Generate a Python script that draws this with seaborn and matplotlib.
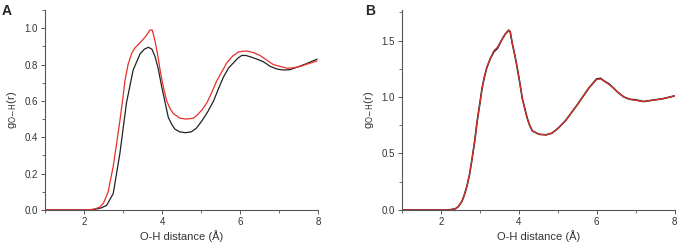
import seaborn as sns
import matplotlib.pyplot as plt
from matplotlib.ticker import MultipleLocator

# Panel A: two g(r) curves
a_black_r = [1.0, 2.1, 2.3, 2.45, 2.58, 2.75, 2.92, 3.09, 3.26, 3.44, 3.55, 3.65, 3.74,
             3.82, 3.9, 3.99, 4.08, 4.16, 4.25, 4.33, 4.45, 4.6, 4.75, 4.88, 5.02, 5.17,
             5.32, 5.45, 5.57, 5.7, 5.83, 5.94, 6.04, 6.15, 6.3, 6.43, 6.6, 6.77, 6.95,
             7.11, 7.28, 7.45, 7.7, 7.97]
a_black_g = [0.0, 0.0, 0.004, 0.012, 0.025, 0.09, 0.31, 0.59, 0.77, 0.86, 0.885, 0.895,
             0.885, 0.845, 0.78, 0.68, 0.59, 0.51, 0.47, 0.445, 0.43, 0.425, 0.43,
             0.45, 0.49, 0.54, 0.60, 0.67, 0.73, 0.78, 0.81, 0.835, 0.85, 0.85, 0.84,
             0.83, 0.815, 0.79, 0.775, 0.77, 0.772, 0.785, 0.805, 0.83]
a_red_r = [1.0, 2.05, 2.25, 2.4, 2.5, 2.62, 2.75, 2.84, 2.92, 3.0, 3.05, 3.13, 3.22,
           3.3, 3.39, 3.5, 3.6, 3.69, 3.75, 3.82, 3.9, 3.95, 4.03, 4.12, 4.2, 4.29,
           4.46, 4.62, 4.8, 4.89, 5.02, 5.15, 5.28, 5.4, 5.53, 5.66, 5.8, 5.96, 6.16,
           6.35, 6.51, 6.68, 6.85, 7.02, 7.2, 7.37, 7.54, 7.75, 7.97]
a_red_g = [0.0, 0.0, 0.004, 0.015, 0.037, 0.1, 0.24, 0.37, 0.49, 0.62, 0.71, 0.8,
           0.86, 0.89, 0.91, 0.935, 0.96, 0.99, 0.99, 0.93, 0.84, 0.77, 0.68, 0.60,
           0.56, 0.53, 0.505, 0.50, 0.505, 0.52, 0.55, 0.59, 0.65, 0.71, 0.76, 0.81,
           0.845, 0.87, 0.875, 0.865, 0.85, 0.825, 0.80, 0.79, 0.78, 0.782, 0.79,
           0.805, 0.82]

# Panel B: curves nearly overlap
b_r = [1.0, 2.2, 2.37, 2.45, 2.54, 2.6, 2.67, 2.74, 2.8, 2.87, 2.93, 3.0, 3.06, 3.12,
       3.18, 3.27, 3.36, 3.45, 3.57, 3.66, 3.74, 3.78, 3.83, 3.9, 3.96, 4.03, 4.09,
       4.16, 4.22, 4.28, 4.35, 4.52, 4.7, 4.85, 5.0, 5.2, 5.5, 5.8, 6.0, 6.1, 6.2,
       6.3, 6.4, 6.55, 6.7, 6.85, 7.0, 7.2, 7.5, 7.7, 8.0]
b_black_g = [0.0, 0.0, 0.01, 0.03, 0.075, 0.13, 0.21, 0.32, 0.45, 0.61, 0.78, 0.94,
             1.08, 1.18, 1.26, 1.34, 1.40, 1.43, 1.51, 1.56, 1.59, 1.58, 1.48, 1.37,
             1.26, 1.12, 0.99, 0.89, 0.81, 0.75, 0.70, 0.67, 0.665, 0.68, 0.72, 0.79,
             0.93, 1.08, 1.16, 1.165, 1.14, 1.12, 1.09, 1.04, 1.0, 0.98, 0.975, 0.96,
             0.975, 0.985, 1.01]
b_red_g = [0.0, 0.0, 0.01, 0.03, 0.075, 0.13, 0.21, 0.32, 0.45, 0.61, 0.78, 0.94,
           1.08, 1.18, 1.26, 1.34, 1.41, 1.44, 1.51, 1.56, 1.595, 1.58, 1.48, 1.37,
           1.26, 1.12, 0.99, 0.89, 0.81, 0.75, 0.70, 0.67, 0.665, 0.68, 0.72, 0.79,
           0.93, 1.08, 1.155, 1.16, 1.14, 1.115, 1.09, 1.04, 1.0, 0.98, 0.97, 0.96,
           0.975, 0.985, 1.01]

sns.set_style("ticks")
plt.rcParams["font.family"] = ["Liberation Sans", "DejaVu Sans"]

fig = plt.figure(figsize=(6.8, 2.45), dpi=100)
ax_a = fig.add_axes([0.066, 0.143, 0.402, 0.816])
ax_b = fig.add_axes([0.591, 0.143, 0.401, 0.816])

black = "#222222"
red = "#e8302a"

sns.lineplot(x=a_black_r, y=a_black_g, ax=ax_a, color=black, lw=0.9)
sns.lineplot(x=a_red_r, y=a_red_g, ax=ax_a, color=red, lw=0.9)
sns.lineplot(x=b_r, y=b_black_g, ax=ax_b, color=black, lw=1.2)
sns.lineplot(x=b_r, y=b_red_g, ax=ax_b, color=red, lw=0.8)

ax_a.set_xlim(1, 8)
ax_a.set_ylim(0, 1.1)
ax_a.yaxis.set_major_locator(MultipleLocator(0.2))
ax_a.yaxis.set_minor_locator(MultipleLocator(0.1))

ax_b.set_xlim(1, 8)
ax_b.set_ylim(0, 1.77)
ax_b.yaxis.set_major_locator(MultipleLocator(0.5))
ax_b.yaxis.set_minor_locator(MultipleLocator(0.25))

for ax in (ax_a, ax_b):
    ax.xaxis.set_major_locator(MultipleLocator(2))
    ax.xaxis.set_minor_locator(MultipleLocator(1))
    ax.yaxis.set_major_formatter(plt.FuncFormatter(lambda v, p: f"{v:.1f}"))
    sns.despine(ax=ax)
    for s in ("left", "bottom"):
        ax.spines[s].set_color("#555555")
        ax.spines[s].set_linewidth(0.8)
    ax.tick_params(which="major", length=3, width=0.7, color="#555555",
                   labelsize=7, labelcolor="#333333", pad=2)
    ax.tick_params(which="minor", length=2, width=0.6, color="#555555")
    ax.set_xlabel("O-H distance (Å)", fontsize=8, color="#333333", labelpad=2)
    ax.set_ylabel(r"g$_{\rm O\!-\!H}$(r)", fontsize=8, color="#333333", labelpad=4)

fig.text(0.003, 0.985, "A", fontsize=10, fontweight="bold", va="top")
fig.text(0.537, 0.985, "B", fontsize=10, fontweight="bold", va="top")

plt.savefig("out.png", dpi=100)
